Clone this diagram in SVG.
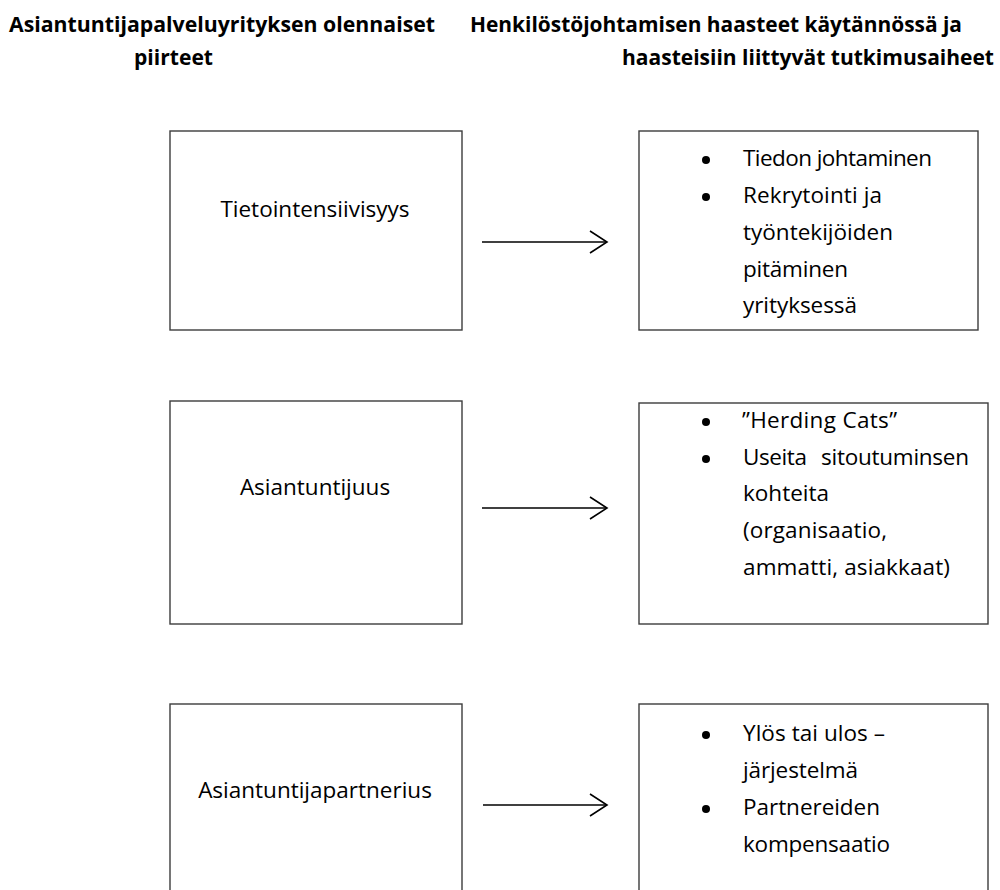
<svg xmlns="http://www.w3.org/2000/svg" width="1000" height="890" viewBox="0 0 1000 890">
<style>
.box{fill:#fff;stroke:#3c3c3c;stroke-width:1.4}
.hd{font-family:"Open Sans","Liberation Sans",sans-serif;font-weight:bold;font-size:22px;fill:#000}
.t{font-family:"Open Sans","Liberation Sans",sans-serif;font-size:22.5px;fill:#000}
.c{text-anchor:middle}
.con{stroke:#000;stroke-width:1.6;fill:none}
.bul{fill:#000}
</style>
<defs>
<marker id="ah" viewBox="0 0 20 24" refX="18" refY="12" markerWidth="20" markerHeight="24" markerUnits="userSpaceOnUse" orient="auto">
<path d="M1,1 L18,12 L1,23" fill="none" stroke="#000" stroke-width="1.6"/>
</marker>
</defs>
<rect width="1000" height="890" fill="#fff"/>
<g id="headers">
<text class="hd" x="9" y="32" textLength="426" lengthAdjust="spacingAndGlyphs">Asiantuntijapalveluyrityksen olennaiset</text>
<text class="hd" x="134" y="65" textLength="79" lengthAdjust="spacingAndGlyphs">piirteet</text>
<text class="hd" x="470" y="32" textLength="492" lengthAdjust="spacingAndGlyphs">Henkilöstöjohtamisen haasteet käytännössä ja</text>
<text class="hd" transform="translate(622,65) scale(1,1.19)" x="0" y="0" style="font-size:18.5px" textLength="372" lengthAdjust="spacingAndGlyphs">haasteisiin liittyvät tutkimusaiheet</text>
</g>
<g id="node-tieto">
<rect class="box" x="170" y="131" width="292" height="199"/>
<text class="t c" x="315" y="217">Tietointensiivisyys</text>
</g>
<g id="node-tieto-haasteet">
<rect class="box" x="639" y="131" width="339" height="199"/>
<circle class="bul" cx="706" cy="160" r="4"/>
<circle class="bul" cx="706" cy="197" r="4"/>
<text class="t" x="743" y="166" textLength="189">Tiedon johtaminen</text>
<text class="t" x="743" y="203" textLength="139">Rekrytointi ja</text>
<text class="t" x="743" y="240" textLength="150">työntekijöiden</text>
<text class="t" x="743" y="277" textLength="105">pitäminen</text>
<text class="t" x="743" y="313" textLength="114">yrityksessä</text>
</g>
<g id="node-asiantuntijuus">
<rect class="box" x="170" y="401" width="292" height="223"/>
<text class="t c" x="315" y="495">Asiantuntijuus</text>
</g>
<g id="node-asiantuntijuus-haasteet">
<rect class="box" x="639" y="403" width="349" height="221"/>
<circle class="bul" cx="706" cy="422" r="4"/>
<circle class="bul" cx="706" cy="459" r="4"/>
<text class="t" x="742" y="428" textLength="155">”Herding Cats”</text>
<text class="t" x="743" y="465" textLength="64">Useita</text>
<text class="t" x="821" y="465" textLength="148">sitoutuminsen</text>
<text class="t" x="743" y="501" textLength="86">kohteita</text>
<text class="t" x="743" y="538" textLength="144">(organisaatio,</text>
<text class="t" x="743" y="575" textLength="207">ammatti, asiakkaat)</text>
</g>
<g id="node-partnerius">
<rect class="box" x="170" y="704" width="292" height="200"/>
<text class="t c" x="315" y="798">Asiantuntijapartnerius</text>
</g>
<g id="node-partnerius-haasteet">
<rect class="box" x="639" y="704" width="349" height="200"/>
<circle class="bul" cx="706" cy="735" r="4"/>
<circle class="bul" cx="706" cy="809" r="4"/>
<text class="t" x="743" y="741" textLength="142">Ylös tai ulos –</text>
<text class="t" x="743" y="778" textLength="115">järjestelmä</text>
<text class="t" x="743" y="815" textLength="137">Partnereiden</text>
<text class="t" x="743" y="852" textLength="147">kompensaatio</text>
</g>
<g id="connectors">
<line class="con" x1="482" y1="242" x2="607" y2="242" marker-end="url(#ah)"/>
<line class="con" x1="482" y1="508" x2="607" y2="508" marker-end="url(#ah)"/>
<line class="con" x1="483" y1="805" x2="607" y2="805" marker-end="url(#ah)"/>
</g>
</svg>
